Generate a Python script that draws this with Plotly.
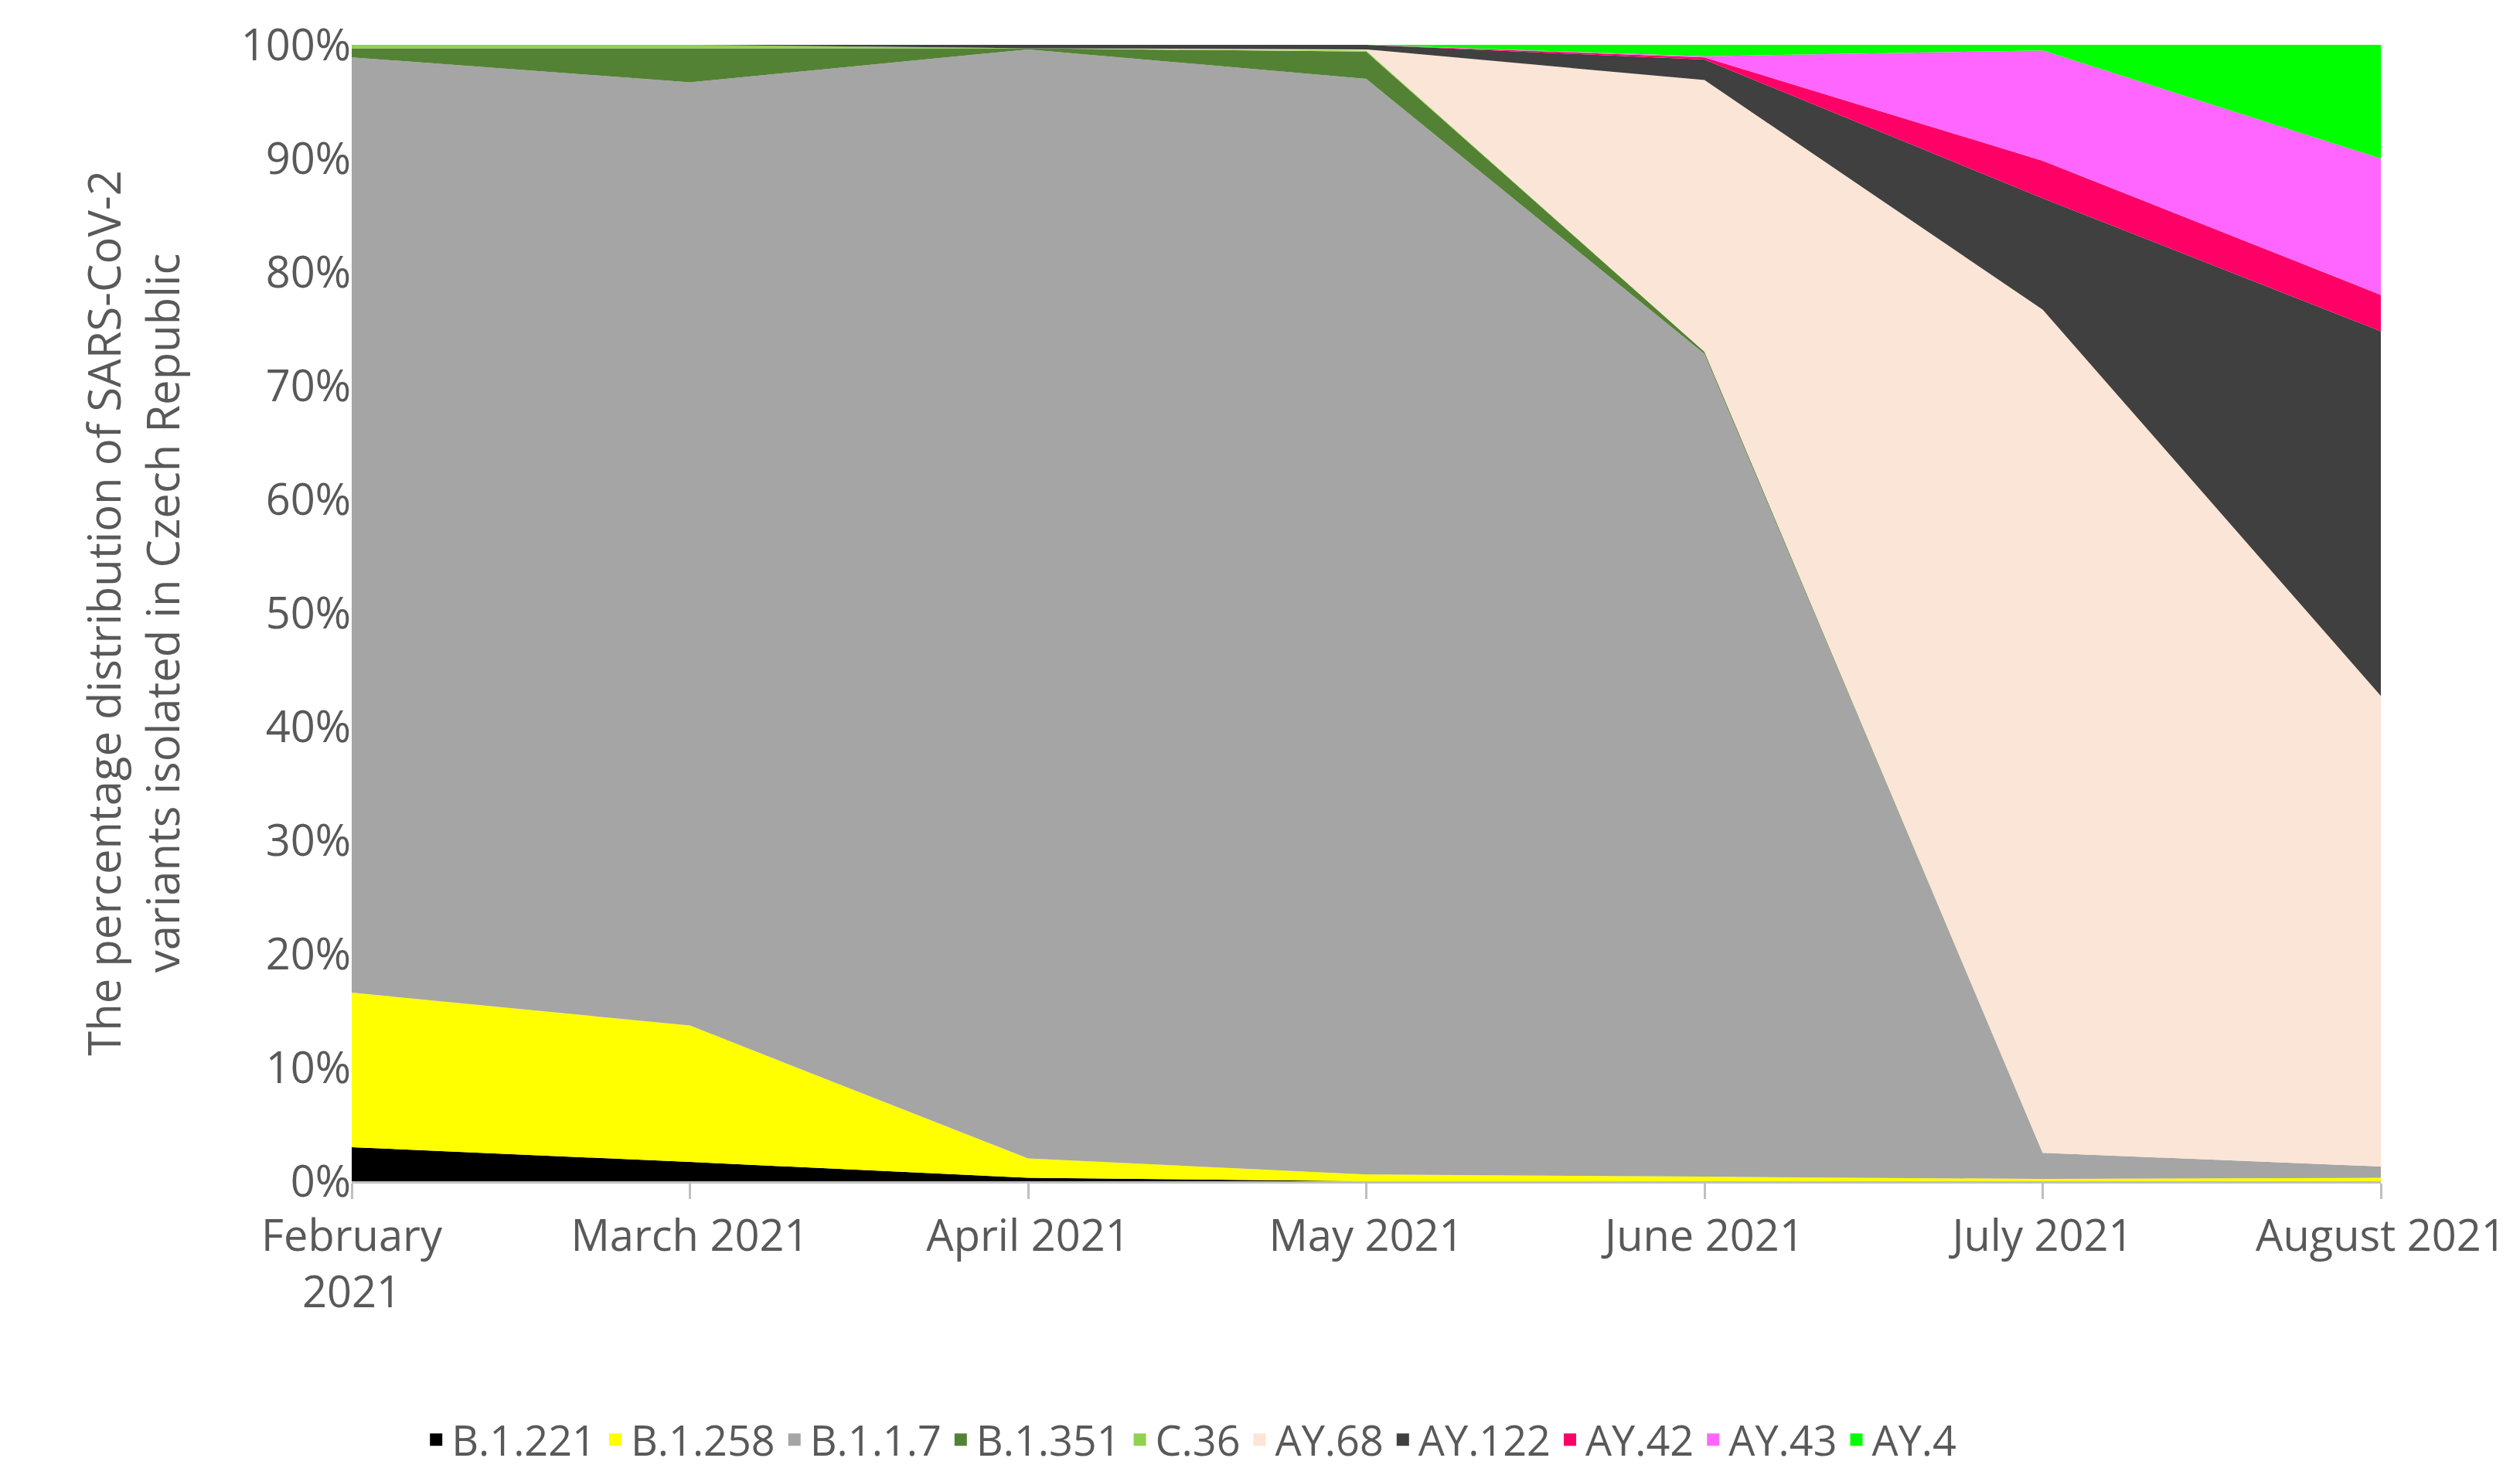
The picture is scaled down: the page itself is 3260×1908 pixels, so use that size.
import plotly.graph_objects as go

months = ["February<br>2021", "March 2021", "April 2021", "May 2021", "June 2021", "July 2021", "August 2021"]
B1221 = [3.0, 1.7, 0.3, 0.0, 0.0, 0.0, 0.0]
B1258 = [13.6, 12.0, 1.7, 0.6, 0.4, 0.2, 0.3]
B117 = [82.3, 83.0, 97.6, 96.4, 72.4, 2.3, 1.0]
B1351 = [0.8, 3.0, 0.1, 2.4, 0.2, 0.0, 0.0]
C36 = [0.3, 0.3, 0.0, 0.1, 0.0, 0.0, 0.0]
AY68 = [0.0, 0.0, 0.0, 0.1, 23.9, 74.2, 41.4]
AY122 = [0.0, 0.0, 0.3, 0.4, 1.8, 9.8, 32.1]
AY42 = [0.0, 0.0, 0.0, 0.0, 0.2, 3.3, 3.2]
AY43 = [0.0, 0.0, 0.0, 0.0, 0.1, 9.7, 12.0]
AY4 = [0.0, 0.0, 0.0, 0.0, 1.0, 0.5, 10.0]

series = [("B.1.221", B1221, "#000000"), ("B.1.258", B1258, "#FFFF00"),
          ("B.1.1.7", B117, "#A5A5A5"), ("B.1.351", B1351, "#548235"),
          ("C.36", C36, "#92D050"), ("AY.68", AY68, "#FBE5D6"),
          ("AY.122", AY122, "#404040"), ("AY.42", AY42, "#FF0066"),
          ("AY.43", AY43, "#FF66FF"), ("AY.4", AY4, "#00FF00")]

fig = go.Figure()
for name, vals, col in series:
    fig.add_trace(go.Scatter(x=months, y=vals, name=name, stackgroup="one",
                             mode="lines", line=dict(width=0, color=col),
                             fillcolor=col, showlegend=False))
for name, vals, col in series:
    fig.add_trace(go.Scatter(x=[None], y=[None], name=name, mode="markers",
                             marker=dict(symbol="square", size=34, color=col)))

fig.update_layout(
    width=3260, height=1908, plot_bgcolor="white", paper_bgcolor="white",
    font=dict(family="Open Sans", size=54, color="#595959"),
    margin=dict(l=447, r=188, t=50, b=388, autoexpand=False),
    xaxis=dict(range=[0, 6], showline=True, linecolor="#BFBFBF", linewidth=3,
               ticks="outside", ticklen=20, tickcolor="#BFBFBF", tickwidth=3,
               showgrid=False, tickfont=dict(size=56)),
    yaxis=dict(range=[0, 100], dtick=10, ticksuffix="%", showgrid=False,
               showline=False, tickfont=dict(size=56),
               title=dict(text="The percentage distribution of SARS-CoV-2<br>variants isolated in Czech Republic",
                          font=dict(size=58), standoff=60)),
    legend=dict(orientation="h", x=0.47, xanchor="center", xref="container",
                y=0.028, yanchor="middle", yref="container",
                font=dict(size=54), itemwidth=30, traceorder="normal"),
)
fig.write_html("out.html")
